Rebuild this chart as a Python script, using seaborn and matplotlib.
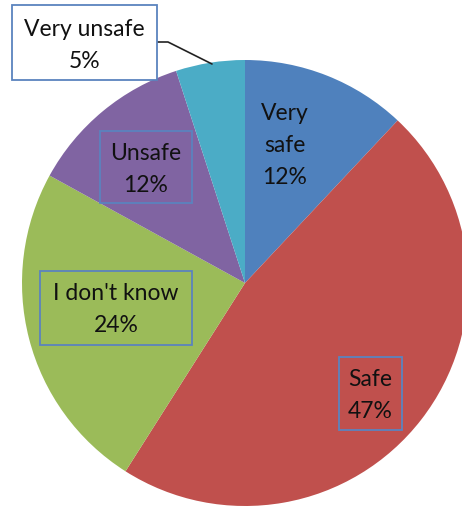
import matplotlib
matplotlib.use("Agg")
import matplotlib.pyplot as plt
import seaborn as sns
from matplotlib.patches import Rectangle

categories = ["Very safe", "Safe", "I don't know", "Unsafe", "Very unsafe"]
values = [12, 47, 24, 12, 5]
colors = ["#4F81BD", "#C0504D", "#9BBB59", "#8064A2", "#4BACC6"]
label_lines = [["Very", "safe", "12%"], ["Safe", "47%"], ["I don't know", "24%"],
               ["Unsafe", "12%"], ["Very unsafe", "5%"]]

sns.set_style("white")
plt.rcParams['font.family'] = ['Lato', 'DejaVu Sans']

W, H = 462, 508
fig = plt.figure(figsize=(W / 100, H / 100), dpi=100)
cx, cy, R = 245, 283, 223
ax = fig.add_axes([(cx - R) / W, (H - cy - R) / H, 2 * R / W, 2 * R / H])
ax.pie(values, colors=colors, startangle=90, counterclock=False, radius=1,
       wedgeprops=dict(linewidth=0))
ax.set_xlim(-1, 1)
ax.set_ylim(-1, 1)
ax.axis("off")

def d(px, py):
    return ((px - cx) / R, (cy - py) / R)

# label boxes in pixel terms (left, top, right, bottom) ; None = no box
boxes = [None, (339, 357, 402, 430), (40, 271, 192, 345), (100, 131, 192, 203), (12, 5, 157, 80)]
centers = [(285, 145), (370, 395), (116, 310), (146, 169), (84.5, 45)]
spacing = 32
for i, lines in enumerate(label_lines):
    b = boxes[i]
    if b is not None:
        x0, y0 = d(b[0], b[3])
        x1, y1 = d(b[2], b[1])
        fc = "white" if i == 4 else "none"
        ax.add_patch(Rectangle((x0, y0), x1 - x0, y1 - y0, fill=(i == 4), facecolor=fc,
                               edgecolor="#5B83BE", linewidth=1.3, clip_on=False, zorder=3))
    pcx, pcy = centers[i]
    n = len(lines)
    for k, t in enumerate(lines):
        py = pcy + (k - (n - 1) / 2) * spacing
        x, y = d(pcx, py)
        ax.text(x, y, t, ha="center", va="center", fontsize=16.5, color="#111111",
                clip_on=False, zorder=4)

# leader line for Very unsafe
pts = [d(157, 42), d(168, 42), d(212, 64)]
ax.plot([p[0] for p in pts], [p[1] for p in pts], color="#222222", linewidth=1.2,
        clip_on=False, zorder=2)

fig.savefig("out.png", dpi=100)
